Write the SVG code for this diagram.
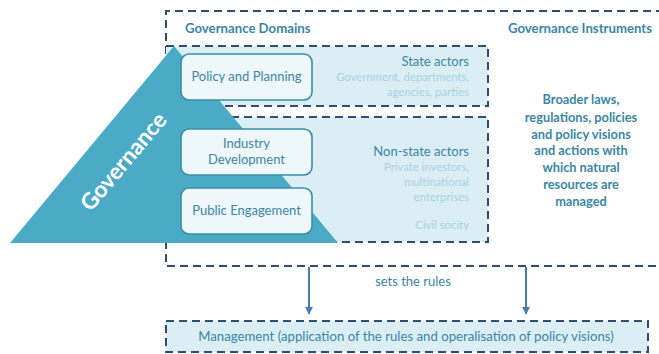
<svg xmlns="http://www.w3.org/2000/svg" width="659" height="354" viewBox="0 0 659 354">
<defs>
<style>
.dash{fill:none;stroke:#2C4D78;stroke-width:2;stroke-dasharray:8 5}
.lb{fill:#DAEEF4}
.node{fill:#EEF7FA;stroke:#3A8DA8;stroke-width:1.6}
.t{font-family:Lato,"Open Sans",sans-serif;fill:#3A86A6}
.b{font-weight:bold}
.lt{font-family:Lato,"Open Sans",sans-serif;fill:#A9D2E2;font-size:11.3px}
.arr{stroke:#4A79B8;stroke-width:2;fill:none}
</style>
<marker id="ah" viewBox="0 0 10 10" refX="9" refY="5" markerWidth="4" markerHeight="4" orient="auto"><path d="M0,0 L10,5 L0,10 z" fill="#4A79B8"/></marker>
</defs>
<rect width="659" height="354" fill="#fff"/>
<g id="outer">
<path class="dash" d="M664,11 H166 V266 H664"/>
</g>
<g id="state-actors">
<rect class="lb" x="166" y="46" width="322" height="60"/>
<path class="dash" d="M166,46 H488 V106 H166"/>
</g>
<g id="non-state-actors">
<rect class="lb" x="166" y="117" width="322" height="125"/>
<path class="dash" d="M166,117 H488 V242 H166"/>
</g>
<g id="triangle">
<polygon points="174,46 10,243 338,243" fill="#4BABC6"/>
<text class="b" x="124" y="169" transform="rotate(-50 124 162)" text-anchor="middle" font-family="Lato,'Open Sans',sans-serif" font-size="22.5" fill="#fff">Governance</text>
</g>
<g id="policy-planning">
<rect class="node" x="181" y="54" width="131" height="46" rx="8"/>
<text class="t" x="246.5" y="81" text-anchor="middle" font-size="13">Policy and Planning</text>
</g>
<g id="industry-development">
<rect class="node" x="181" y="129" width="131" height="46" rx="8"/>
<text class="t" x="246.5" y="148" text-anchor="middle" font-size="13">Industry</text>
<text class="t" x="246.5" y="164" text-anchor="middle" font-size="13">Development</text>
</g>
<g id="public-engagement">
<rect class="node" x="181" y="188" width="131" height="46" rx="8"/>
<text class="t" x="246.5" y="215" text-anchor="middle" font-size="13">Public Engagement</text>
</g>
<g id="labels">
<text class="t b" x="185" y="33" font-size="13.2">Governance Domains</text>
<text class="t b" x="508" y="33" font-size="13.2">Governance Instruments</text>
<text class="t" x="469" y="66" text-anchor="end" font-size="13">State actors</text>
<text class="lt" x="469" y="81" text-anchor="end">Government, departments,</text>
<text class="lt" x="469" y="96" text-anchor="end">agencies,  parties</text>
<text class="t" x="469" y="156" text-anchor="end" font-size="13">Non-state actors</text>
<text class="lt" x="469" y="171" text-anchor="end">Private investors,</text>
<text class="lt" x="469" y="186" text-anchor="end">multinational</text>
<text class="lt" x="469" y="201" text-anchor="end">enterprises</text>
<text class="lt" x="469" y="229" text-anchor="end">Civil socity</text>
<g class="t b" font-size="12.8" text-anchor="middle">
<text x="581" y="104">Broader laws,</text>
<text x="581" y="122">regulations, policies</text>
<text x="581" y="139">and policy visions</text>
<text x="581" y="155">and actions with</text>
<text x="581" y="172">which natural</text>
<text x="581" y="189">resources are</text>
<text x="581" y="206">managed</text>
</g>
<text class="t" x="413" y="286" text-anchor="middle" font-size="13">sets the rules</text>
</g>
<g id="connectors">
<line class="arr" x1="309" y1="267" x2="309" y2="314" marker-end="url(#ah)"/>
<line class="arr" x1="526" y1="267" x2="526" y2="314" marker-end="url(#ah)"/>
</g>
<g id="management">
<rect class="lb" x="166" y="321" width="482" height="31"/>
<rect class="dash" x="166" y="321" width="482" height="31"/>
<text class="t" x="406" y="341" text-anchor="middle" font-size="13.2">Management (application of the rules and operalisation of policy visions)</text>
</g>
</svg>
